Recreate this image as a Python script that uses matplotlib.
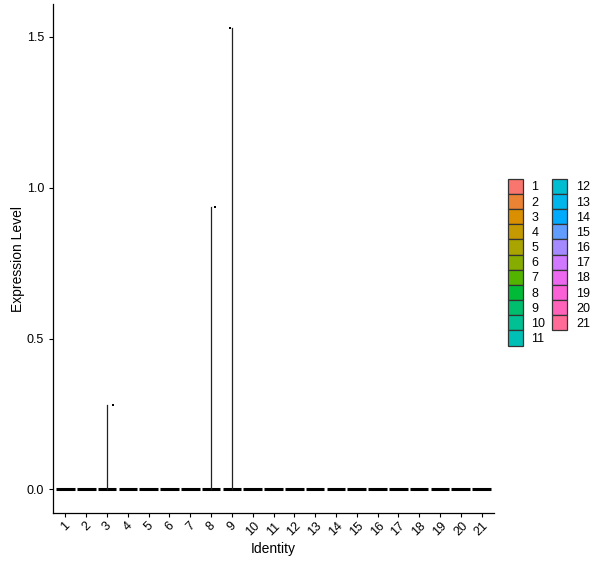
import numpy as np
import matplotlib
matplotlib.use("Agg")
import matplotlib.pyplot as plt
from matplotlib.patches import Patch

plt.rcParams['font.family'] = ['Liberation Sans', 'DejaVu Sans']

# --- data ---
identities = [str(i) for i in range(1, 22)]
max_expr = [0, 0, 0.28, 0, 0, 0, 0, 0.935, 1.53, 0, 0,
            0, 0, 0, 0, 0, 0, 0, 0, 0, 0]
# jitter offset of the single non-zero cell in each group
jitter = [0, 0, 0.27, 0, 0, 0, 0, 0.18, -0.1, 0, 0,
          0, 0, 0, 0, 0, 0, 0, 0, 0, 0]
y_ticks = [0.0, 0.5, 1.0, 1.5]


def hue_pal(n, c=100, l=65):
    # ggplot2 default hue palette (polar Luv -> sRGB)
    hues = 15 + np.arange(n) * 360 / n
    out = []
    xn, yn, zn = 95.047, 100.0, 108.883
    un = 4 * xn / (xn + 15 * yn + 3 * zn)
    vn = 9 * yn / (xn + 15 * yn + 3 * zn)
    for h in hues:
        u = c * np.cos(np.radians(h))
        v = c * np.sin(np.radians(h))
        Y = yn * ((l + 16) / 116) ** 3
        up = u / (13 * l) + un
        vp = v / (13 * l) + vn
        X = 9 * Y * up / (4 * vp)
        Z = (12 - 3 * up - 20 * vp) * Y / (4 * vp)
        X, Y, Z = X / 100, Y / 100, Z / 100
        r = 3.2406 * X - 1.5372 * Y - 0.4986 * Z
        g = -0.9689 * X + 1.8758 * Y + 0.0415 * Z
        b = 0.0557 * X - 0.2040 * Y + 1.0570 * Z
        rgb = []
        for ch in (r, g, b):
            ch = 12.92 * ch if ch <= 0.0031308 else 1.055 * ch ** (1 / 2.4) - 0.055
            rgb.append(min(max(ch, 0), 1))
        out.append(tuple(rgb))
    return out


colors = hue_pal(len(identities))
pos = np.arange(1, len(identities) + 1)

fig = plt.figure(figsize=(6, 5.68), dpi=100)
ax = fig.add_axes([53 / 600, 1 - 513 / 568, (494 - 53) / 600, (513 - 4) / 568])

# flat violins at zero + spikes for groups with one expressing cell
for x, m, col in zip(pos, max_expr, colors):
    ax.plot([x - 0.45, x + 0.45], [0, 0], color='black', lw=2.2, solid_capstyle='butt', zorder=2)
    if m > 0:
        ax.plot([x, x], [0, m], color='#222222', lw=0.9, zorder=2)

# points
for x, m, j in zip(pos, max_expr, jitter):
    if m > 0:
        ax.scatter(x + j, m, s=3, color='black', marker='s', zorder=3, linewidths=0)

ax.set_xlim(0.4, 21.6)
ax.set_ylim(-0.078, 1.609)
ax.set_xticks(pos)
ax.set_xticklabels(identities, rotation=45, ha='center', va='top')
ax.set_yticks(y_ticks)
ax.set_yticklabels(['0.0', '0.5', '1.0', '1.5'])
ax.tick_params(axis='both', labelsize=9, length=3, width=0.8, color='black', labelcolor='black')
ax.tick_params(axis='x', pad=2)
for s in ['top', 'right']:
    ax.spines[s].set_visible(False)
for s in ['left', 'bottom']:
    ax.spines[s].set_linewidth(0.9)

ax.set_xlabel('Identity', fontsize=10, labelpad=3)
ax.set_ylabel('Expression Level', fontsize=10, labelpad=1)

handles = [Patch(facecolor=c, edgecolor='#333333', linewidth=0.9) for c in colors]
fig.legend(handles, identities, ncol=2, loc='upper left',
           bbox_to_anchor=(499 / 600, 1 - 170 / 568), frameon=False,
           fontsize=9, handlelength=1.2, handleheight=1.49, labelspacing=0.0,
           handletextpad=0.7, columnspacing=0.55, borderpad=0.2)

fig.savefig('out.png', dpi=100)
